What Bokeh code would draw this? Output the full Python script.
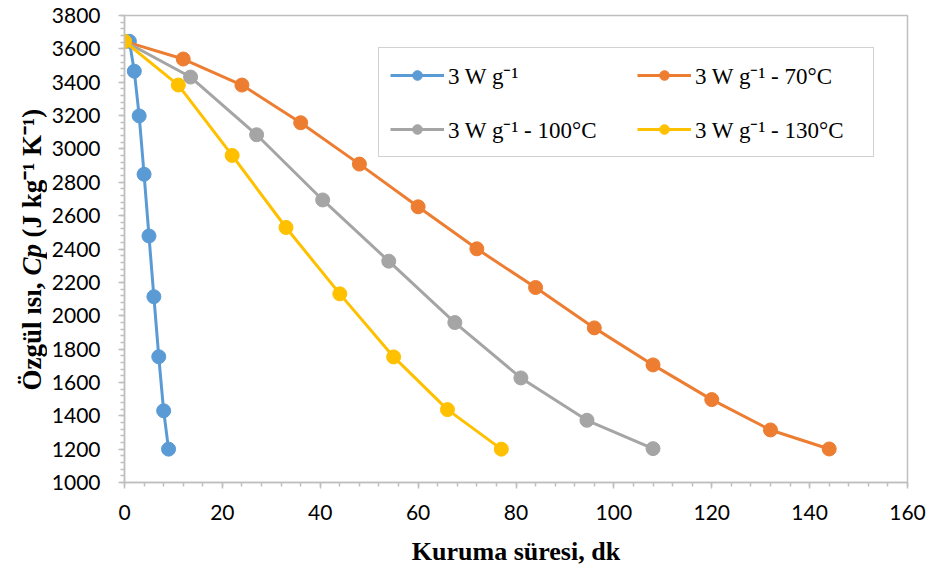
from bokeh.plotting import figure
from bokeh.layouts import row
from bokeh.models import Range1d, SingleIntervalTicker, Legend, LegendItem
from bokeh.core.properties import value
from bokeh.embed import file_html
from bokeh.resources import INLINE
import math

# Data
blue_x = [1, 2, 3, 4, 5, 6, 7, 8, 9]
blue_y = [3645, 3466, 3198, 2848, 2478, 2114, 1754, 1430, 1200]

orange_x = [0, 12, 24, 36, 48, 60, 72, 84, 96, 108, 120, 132, 144]
orange_y = [3645, 3539, 3383, 3157, 2909, 2653, 2401, 2169, 1927, 1705, 1497, 1315, 1201]

gray_x = [0, 13.5, 27, 40.5, 54, 67.5, 81, 94.5, 108]
gray_y = [3645, 3431, 3085, 2694, 2327, 1959, 1627, 1373, 1203]

yellow_x = [0, 11, 22, 33, 44, 55, 66, 77]
yellow_y = [3645, 3383, 2961, 2529, 2131, 1753, 1437, 1200]

labels = ["3 W g\u207b\u00b9", "3 W g\u207b\u00b9 - 70\u00b0C",
          "3 W g\u207b\u00b9 - 100\u00b0C", "3 W g\u207b\u00b9 - 130\u00b0C"]
colors = ["#5B9BD5", "#ED7D31", "#A5A5A5", "#FFC000"]

x_label = "Kuruma süresi, dk"
y_label_parts = ["Özgül ısı,", "Cp", "(J kg\u207b\u00b9 K\u207b\u00b9)"]

LEFT_W = 47
W, H = 930, 570
TOP, BOTTOM = 15, 88

# ---- narrow strip holding the y-axis title (so that "Cp" can be italic) ----
# Its frame is aligned with the main frame by the row layout, so the y range
# is chosen to make one unit equal one pixel measured from the page bottom.
t = figure(width=LEFT_W, height=H, output_backend="svg", toolbar_location=None,
           x_range=Range1d(0, LEFT_W), y_range=Range1d(BOTTOM, H - TOP),
           x_axis_location=None, y_axis_location=None,
           min_border=0, min_border_left=0, min_border_right=0,
           min_border_top=TOP, min_border_bottom=BOTTOM)
t.xgrid.visible = False
t.ygrid.visible = False
t.outline_line_color = None

ylab_x = 31           # horizontal centre of the rotated title (px)
part1_end = 288       # anchor positions along the title (px from page bottom)
cp_start = 295
part3_start = 333
common = dict(angle=math.pi / 2, text_font=value("Liberation Serif"),
              text_font_size=value("27px"), text_color="#000000",
              text_baseline=value("middle"))
t.text(x=[ylab_x], y=[part1_end], text=[y_label_parts[0]], text_align=value("right"),
       text_font_style=value("bold"), **common)
t.text(x=[ylab_x], y=[cp_start], text=[y_label_parts[1]], text_align=value("left"),
       text_font_style=value("bold italic"), **common)
t.text(x=[ylab_x], y=[part3_start], text=[y_label_parts[2]], text_align=value("left"),
       text_font_style=value("bold"), **common)

# ---- main chart ----
p = figure(width=W - LEFT_W, height=H, output_backend="svg", toolbar_location=None,
           x_range=Range1d(0, 160), y_range=Range1d(1000, 3800),
           min_border_left=124 - LEFT_W, min_border_right=23, min_border_top=TOP,
           min_border_bottom=BOTTOM)

p.xgrid.visible = False
p.ygrid.visible = False
p.outline_line_color = "#BFBFBF"
p.outline_line_width = 1.5

p.xaxis.ticker = SingleIntervalTicker(interval=20, num_minor_ticks=5)
p.yaxis.ticker = SingleIntervalTicker(interval=200, num_minor_ticks=5)

for ax in (p.xaxis[0], p.yaxis[0]):
    ax.axis_line_color = "#BFBFBF"
    ax.axis_line_width = 1.5
    ax.major_tick_line_color = "#BFBFBF"
    ax.minor_tick_line_color = "#BFBFBF"
    ax.major_tick_line_width = 1.5
    ax.minor_tick_line_width = 1.5
    ax.major_tick_in = 0
    ax.major_tick_out = 6
    ax.minor_tick_in = 0
    ax.minor_tick_out = 4
    ax.major_label_text_font = "Lato"
    ax.major_label_text_font_size = "21px"
    ax.major_label_text_color = "#000000"
    ax.axis_label_text_font = "Liberation Serif"
    ax.axis_label_text_font_style = "bold"
    ax.axis_label_text_color = "#000000"

p.xaxis.major_label_standoff = 16
p.yaxis.major_label_standoff = 18

p.xaxis.axis_label = x_label
p.xaxis.axis_label_text_font_size = "26px"
p.xaxis.axis_label_standoff = 14

items = []
for xs, ys, col, lab in [(blue_x, blue_y, colors[0], labels[0]),
                         (orange_x, orange_y, colors[1], labels[1]),
                         (gray_x, gray_y, colors[2], labels[2]),
                         (yellow_x, yellow_y, colors[3], labels[3])]:
    lr = p.line(xs, ys, line_color=col, line_width=3)
    sr = p.scatter(xs, ys, size=14, fill_color=col, line_color=col)
    items.append(LegendItem(label=lab, renderers=[lr, sr]))

legend = Legend(items=items, location=(254, 325), orientation="horizontal", ncols=2)
legend.border_line_color = "#A5A5A5"
legend.border_line_width = 1.5
legend.background_fill_color = "white"
legend.background_fill_alpha = 1
legend.label_text_font = "Liberation Serif"
legend.label_text_font_size = "23px"
legend.label_text_color = "#000000"
legend.glyph_width = 54
legend.glyph_height = 24
legend.label_height = 24
legend.label_width = 167
legend.label_standoff = 4
legend.spacing = 22
legend.padding = 11
legend.margin = 0
p.add_layout(legend)

layout = row(t, p, spacing=0)
open("out.html", "w").write(file_html(layout, INLINE))
